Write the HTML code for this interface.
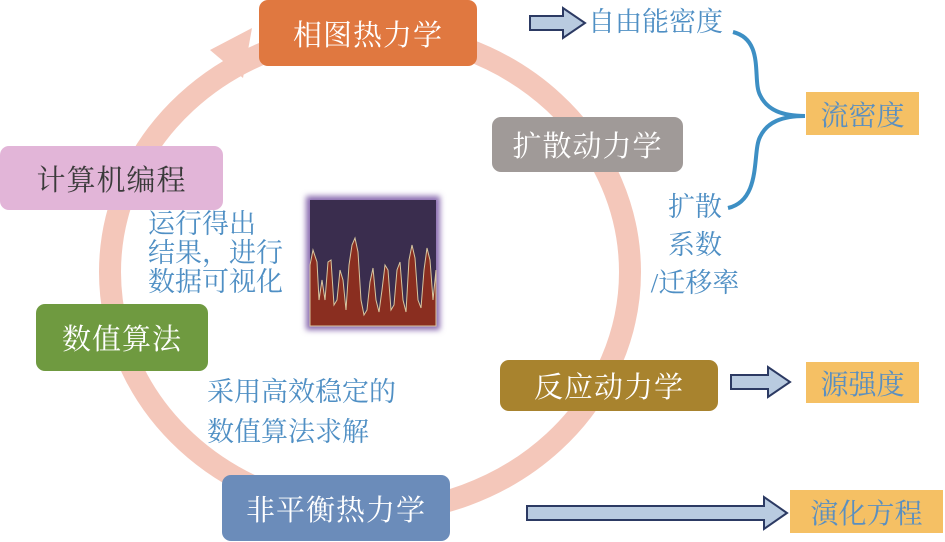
<!DOCTYPE html>
<html><head><meta charset="utf-8"><style>
body{margin:0;width:945px;height:542px;background:#fff;overflow:hidden;position:relative;font-family:"Liberation Serif","Noto Serif CJK SC",serif}
.b{position:absolute;border-radius:9px;color:#fff;display:flex;align-items:center;justify-content:center;font-size:29px;letter-spacing:1px}
.o{position:absolute;background:#f5c064;color:#5a8fc0;display:flex;align-items:center;justify-content:center;font-size:28px}
.t{position:absolute;color:#4f8fc4;font-size:27px;line-height:32px}
</style></head><body>
<svg width="945" height="542" style="position:absolute;left:0;top:0">
<ellipse cx="370" cy="272" rx="260" ry="240" fill="none" stroke="#f4c7ba" stroke-width="22"/>
<polygon points="225,60 259,28 259,0 205,0 200,40" fill="#fff"/>
<polygon points="252,28 243,78 210,50" fill="#f4c7ba"/>
<g fill="#b9cbe0" stroke="#2c3a63" stroke-width="2">
<polygon points="530,16 563,16 563,8 585,23 563,38 563,30 530,30"/>
<polygon points="731,375 768,375 768,367 790,382 768,397 768,389 731,389"/>
<polygon points="527,506 764,506 764,497 787,513 764,529 764,520 527,520"/>
</g>
<path d="M 733 32 C 765 40, 752 80, 760 95 C 767 110, 782 116, 805 116 C 782 116, 767 122, 760 137 C 752 152, 762 200, 728 208" fill="none" stroke="#3d8fc4" stroke-width="4"/>
<defs><filter id="f"><feGaussianBlur stdDeviation="3"/></filter></defs>
<rect x="306" y="196" width="134" height="134" fill="#8a6cb0" filter="url(#f)"/>
<rect x="310" y="200" width="126" height="126" fill="#3a2d4e"/>
<g fill="#8a2e20" stroke="#d8c7a0" stroke-width="1">
<path d="M310 326 L310 265 L313 250 L317 262 L319 300 L322 280 L325 300 L328 262 L331 260 L334 305 L337 300 L340 270 L343 280 L346 310 L349 265 L352 245 L355 238 L358 252 L361 300 L364 315 L367 310 L370 282 L373 268 L376 300 L379 312 L382 290 L385 265 L388 270 L391 310 L394 305 L397 270 L400 262 L403 300 L406 312 L409 260 L412 245 L415 258 L418 300 L421 308 L424 270 L427 248 L430 260 L433 300 L436 270 L436 326 Z"/>
</g>
</svg>
<div class="b" style="left:259px;top:0;width:218px;height:66px;background:#e07840">相图热力学</div>
<div class="b" style="left:492px;top:117px;width:191px;height:55px;background:#a09a98">扩散动力学</div>
<div class="b" style="left:0;top:146px;width:223px;height:64px;background:#e2b5d8;color:#3a3a3a">计算机编程</div>
<div class="b" style="left:36px;top:304px;width:172px;height:67px;background:#6f9a40">数值算法</div>
<div class="b" style="left:500px;top:360px;width:218px;height:51px;background:#a8832e">反应动力学</div>
<div class="b" style="left:222px;top:475px;width:228px;height:66px;background:#6b8cba">非平衡热力学</div>
<div class="o" style="left:806px;top:92px;width:113px;height:43px">流密度</div>
<div class="o" style="left:806px;top:362px;width:113px;height:41px">源强度</div>
<div class="o" style="left:790px;top:490px;width:153px;height:43px">演化方程</div>
<div class="t" style="left:588px;top:6px">自由能密度</div>
<div class="t" style="left:640px;top:188px;text-align:center;width:110px;line-height:38px">扩散<br>系数<br>/迁移率</div>
<div class="t" style="left:148px;top:210px;line-height:29px">运行得出<br>结果，进行<br>数据可视化</div>
<div class="t" style="left:207px;top:372px;line-height:40px">采用高效稳定的<br>数值算法求解</div>
</body></html>
